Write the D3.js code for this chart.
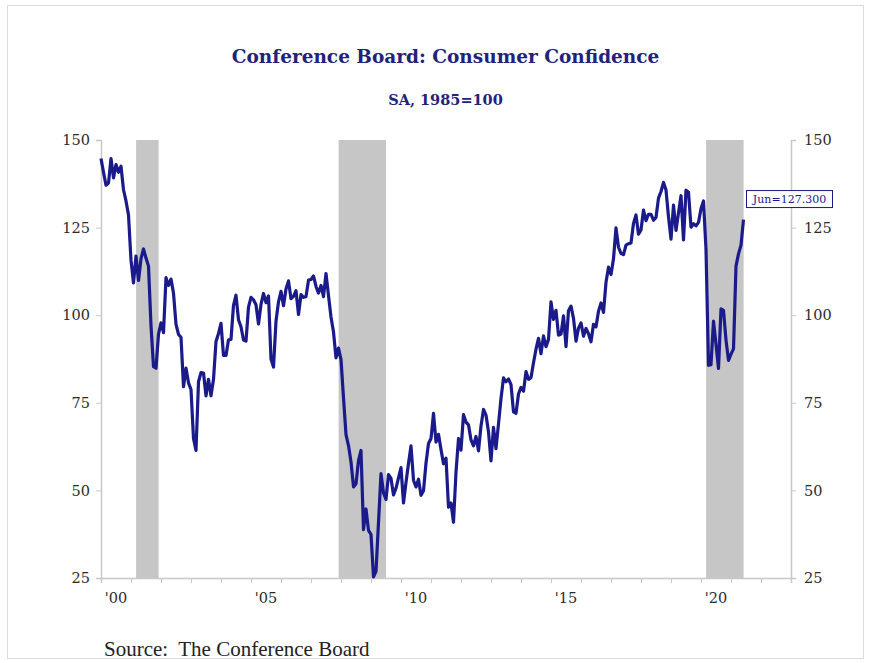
<!DOCTYPE html>
<html><head><meta charset="utf-8">
<script src="https://cdn.jsdelivr.net/npm/d3@7"></script>
<style>body{margin:0;background:#fff}svg{display:block}</style>
</head><body><svg id="c" width="871" height="663"></svg>
<script>
// Monthly index, Jan 2000 .. Jun 2021
const startYear = 2000;
const values = [
144.7,140.8,137.1,137.7,144.7,139.2,143.0,140.8,142.5,135.8,132.6,128.6,
115.7,109.2,116.9,109.9,116.1,118.9,116.3,114.0,97.0,85.3,84.9,94.6,
97.8,95.0,110.7,108.5,110.3,106.3,97.4,94.5,93.7,79.6,84.9,80.7,
78.8,64.8,61.4,81.0,83.6,83.5,77.0,81.7,77.0,81.7,92.5,94.8,
97.7,88.5,88.5,93.0,93.1,102.8,105.7,98.7,96.7,92.9,92.6,102.3,
105.1,104.4,103.0,97.5,103.1,106.2,103.6,105.5,87.5,85.2,98.3,103.8,
106.8,102.7,107.5,109.8,104.7,105.4,107.0,100.2,105.9,105.1,105.3,110.0,
110.2,111.2,108.2,106.3,108.5,105.3,111.9,105.6,99.5,95.2,87.8,90.6,
87.3,76.4,65.9,62.8,58.1,51.0,51.9,58.5,61.4,38.8,44.7,38.6,
37.4,25.3,26.9,40.8,54.8,49.3,47.4,54.5,53.4,48.7,50.6,53.6,
56.5,46.4,52.3,57.7,62.7,52.9,51.0,53.2,48.6,49.9,57.8,63.4,
64.8,72.0,63.8,66.0,61.7,57.6,59.2,45.2,46.4,40.9,55.2,64.8,
61.5,71.6,69.5,68.7,64.4,62.7,65.4,61.3,68.4,73.1,71.5,66.7,
58.4,68.0,61.9,69.0,76.2,82.1,81.0,81.8,80.2,72.4,72.0,77.5,
79.4,78.3,83.9,81.7,82.2,86.4,90.3,93.4,89.0,94.1,91.0,93.1,
103.8,98.8,101.4,94.3,94.6,99.8,91.0,101.3,102.6,99.1,92.6,96.3,
97.8,94.0,96.2,94.7,92.4,97.4,96.7,101.1,103.5,100.8,109.4,113.7,
111.6,116.1,124.9,119.4,117.6,117.3,120.0,120.4,120.6,126.2,128.6,123.1,
124.3,130.0,127.0,128.8,128.8,127.1,127.9,133.4,135.3,137.9,135.7,128.1,
121.7,131.4,124.2,129.2,134.1,121.5,135.7,135.1,125.1,126.1,125.5,126.5,
130.4,132.6,118.8,85.7,85.9,98.3,91.7,84.8,101.8,101.4,92.9,87.1,
88.9,90.4,114.0,117.5,120.0,127.3
];
// recession periods [start, end] in decimal years
const recessions = [[2001.17, 2001.92], [2007.92, 2009.5], [2020.17, 2021.42]];
const yTicks = [25, 50, 75, 100, 125, 150];
const xTickYears = d3.range(2000, 2024);
const xLabelYears = [2000, 2005, 2010, 2015, 2020];
const lastLabel = "Jun=127.300";
const titleText = "Conference Board: Consumer Confidence";
const subtitleText = "SA, 1985=100";
const sourceText = "Source:  The Conference Board";

const svg = d3.select("#c");
const navy = "#1a1a8a";
const axisGray = "#c8c8c8";
const serif = "'DejaVu Serif', 'Liberation Serif', serif";

// frame
svg.append("rect").attr("x", 7.5).attr("y", 5.5).attr("width", 856).attr("height", 653)
  .attr("fill", "none").attr("stroke", "#dcdcdc");

const x = d3.scaleLinear().domain([2000, 2023]).range([101, 791]);
const y = d3.scaleLinear().domain([25, 150]).range([578, 140]);

// recession shading
svg.append("g").selectAll("rect").data(recessions).join("rect")
  .attr("x", d => x(d[0])).attr("width", d => x(d[1]) - x(d[0]))
  .attr("y", y(150)).attr("height", y(25) - y(150))
  .attr("fill", "#c6c6c6");

// axes
const left = svg.append("g").attr("transform", `translate(${x(2000)},0)`)
  .call(d3.axisLeft(y).tickValues(yTicks).tickSize(5).tickPadding(6));
const right = svg.append("g").attr("transform", `translate(${x(2023)},0)`)
  .call(d3.axisRight(y).tickValues(yTicks).tickSize(5).tickPadding(8));
const bottom = svg.append("g").attr("transform", `translate(0,${y(25)})`)
  .call(d3.axisBottom(x).tickValues(xTickYears).tickSize(5).tickFormat(""));
[left, right, bottom].forEach(g => {
  g.selectAll("path").attr("stroke", axisGray).attr("stroke-width", 1.5);
  g.selectAll("line").attr("stroke", axisGray);
  g.selectAll("text").attr("font-family", serif).attr("font-size", 14.5).attr("fill", "#2a2a2a");
});
// x labels centred within the year
svg.append("g").selectAll("text").data(xLabelYears).join("text")
  .attr("x", d => x(d + 0.5)).attr("y", 603)
  .attr("text-anchor", "middle").attr("font-family", serif).attr("font-size", 14.5)
  .attr("fill", "#2a2a2a").text(d => "'" + String(d).slice(2));

// line
const line = d3.line().x((d, i) => x(startYear + i / 12)).y(d => y(d));
svg.append("path").datum(values).attr("d", line)
  .attr("fill", "none").attr("stroke", navy).attr("stroke-width", 3.2)
  .attr("stroke-linejoin", "round");

// last value label
const lx = x(startYear + (values.length - 1) / 12);
const lbl = svg.append("g").attr("transform", `translate(${lx + 3},${y(values[values.length - 1]) - 29})`);
lbl.append("rect").attr("width", 86).attr("height", 17).attr("fill", "#fff")
  .attr("stroke", navy).attr("stroke-width", 1);
lbl.append("text").attr("x", 43).attr("y", 12.5).attr("text-anchor", "middle")
  .attr("font-family", serif).attr("font-size", 11).attr("fill", navy).text(lastLabel);

// titles
svg.append("text").attr("x", 445.5).attr("y", 63).attr("text-anchor", "middle")
  .attr("font-family", serif).attr("font-weight", "bold").attr("font-size", 18.5)
  .attr("fill", "#22227a").text(titleText);
svg.append("text").attr("x", 445.5).attr("y", 105).attr("text-anchor", "middle")
  .attr("font-family", serif).attr("font-weight", "bold").attr("font-size", 14.5)
  .attr("fill", "#22227a").text(subtitleText);
svg.append("text").attr("x", 104).attr("y", 656)
  .attr("font-family", "'Liberation Serif', serif").attr("font-size", 21)
  .style("white-space", "pre")
  .attr("fill", "#222").text(sourceText);
</script></body></html>
